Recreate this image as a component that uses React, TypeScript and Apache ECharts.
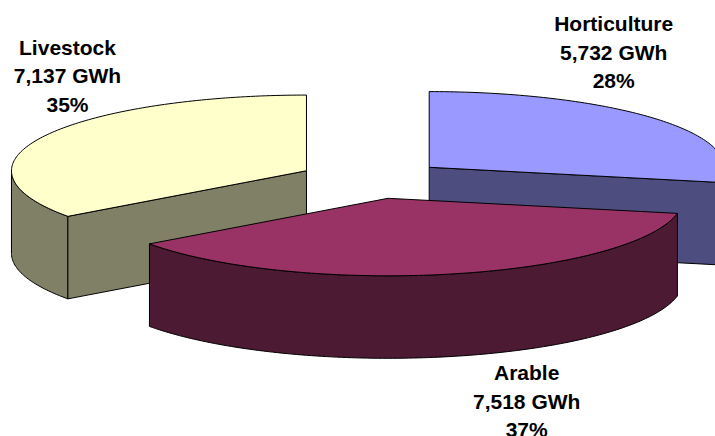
import React, { useEffect, useRef } from "react";
import * as echarts from "echarts";

// Farm electricity use by sector, clockwise from twelve o'clock.
const categories = ["Horticulture", "Arable", "Livestock"];
const valuesGWh = [5732, 7518, 7137];
const topColors = ["#9999FF", "#993366", "#FFFFCC"];
const sideColors = ["#4D4D80", "#4D1A33", "#808066"];

// Back slices first so that the front slice overlaps them.
const paintOrder = [2, 0, 1];

const WIDTH = 715;
const HEIGHT = 436;
const CENTER_X = 372.2;
const CENTER_Y = 179.5;
const RADIUS_X = 295;
// Slight perspective: the near half of the rim is a little deeper than the far half.
const RADIUS_Y_FAR = 75.7;
const RADIUS_Y_NEAR = 77.5;
const RADIUS_Y = 77;
const DEPTH = 82.5;
const EXPLODE = 0.25;
const FONT = 'bold 21px "Liberation Sans", Arial, sans-serif';
const LINE_HEIGHT = 28.5;
const labelAnchors = [
  [613.7, 52],
  [526.7, 401],
  [67.5, 75.5],
];

const total = valuesGWh.reduce((sum, v) => sum + v, 0);
const rad = (deg: number) => (deg * Math.PI) / 180;

function sliceAngles(index: number) {
  const before = valuesGWh.slice(0, index).reduce((sum, v) => sum + v, 0);
  const start = -90 + (before / total) * 360;
  return [start, start + (valuesGWh[index] / total) * 360];
}

function rimPoint(ax: number, ay: number, deg: number, drop = 0) {
  const s = Math.sin(rad(deg));
  return [ax + RADIUS_X * Math.cos(rad(deg)), ay + (s < 0 ? RADIUS_Y_FAR : RADIUS_Y_NEAR) * s + drop];
}

function arc(ax: number, ay: number, from: number, to: number, drop = 0) {
  const steps = Math.max(2, Math.ceil(Math.abs(to - from)));
  const points: number[][] = [];
  for (let i = 0; i <= steps; i++) {
    points.push(rimPoint(ax, ay, from + ((to - from) * i) / steps, drop));
  }
  return points;
}

function renderSlice(_params: any, api: any) {
  const index = api.value(1) as number;
  const [start, end] = sliceAngles(index);
  const mid = (start + end) / 2;
  const ax = CENTER_X + EXPLODE * RADIUS_X * Math.cos(rad(mid));
  const ay = CENTER_Y + EXPLODE * RADIUS_Y * Math.sin(rad(mid));

  const edge = { stroke: "#000000", lineWidth: 1, lineJoin: "round" };
  const side = { ...edge, fill: sideColors[index] };
  const children: any[] = [];

  // Curved outer wall, only where the rim faces the viewer.
  const ranges = [
    [Math.max(start, 0), Math.min(end, 180)],
    [Math.max(start, 360), Math.min(end, 540)],
  ];
  for (const [from, to] of ranges) {
    if (to > from) {
      children.push({
        type: "polygon",
        shape: { points: [...arc(ax, ay, from, to), ...arc(ax, ay, to, from, DEPTH)] },
        style: side,
      });
    }
  }

  // Flat cut faces left open by the explosion.
  const cutFace = (deg: number) => {
    const rim = rimPoint(ax, ay, deg);
    children.push({
      type: "polygon",
      shape: { points: [[ax, ay], rim, [rim[0], rim[1] + DEPTH], [ax, ay + DEPTH]] },
      style: side,
    });
  };
  if (Math.cos(rad(start)) < -1e-6) cutFace(start);
  if (Math.cos(rad(end)) > 1e-6) cutFace(end);

  children.push({
    type: "polygon",
    shape: { points: [[ax, ay], ...arc(ax, ay, start, end)] },
    style: { ...edge, fill: topColors[index] },
  });

  const share = Math.round((valuesGWh[index] / total) * 100);
  const [lx, ly] = labelAnchors[index];
  children.push({
    type: "text",
    style: {
      x: lx,
      y: ly,
      text: `${categories[index]}\n${valuesGWh[index].toLocaleString("en-US")} GWh\n${share}%`,
      font: FONT,
      lineHeight: LINE_HEIGHT,
      fill: "#000000",
      align: "center",
      verticalAlign: "middle",
    },
  });

  return { type: "group", children };
}

export default function App() {
  const ref = useRef<HTMLDivElement>(null);

  useEffect(() => {
    const chart = echarts.init(ref.current!, undefined, { renderer: "svg" });
    chart.setOption({
      animation: false,
      backgroundColor: "#FFFFFF",
      series: [
        {
          type: "custom",
          coordinateSystem: "none",
          silent: true,
          renderItem: renderSlice,
          data: paintOrder.map((i) => ({ name: categories[i], value: [valuesGWh[i], i] })),
        },
      ],
    });
    return () => chart.dispose();
  }, []);

  return (
    <div
      ref={ref}
      style={{ position: "fixed", left: 0, top: 0, width: WIDTH, height: HEIGHT, overflow: "hidden" }}
    />
  );
}
